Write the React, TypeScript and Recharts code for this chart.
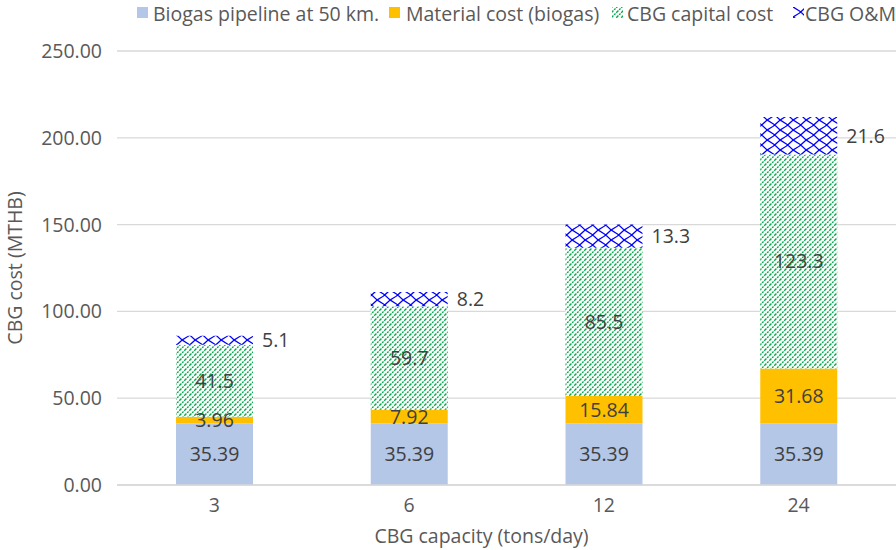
import React from 'react';
import { BarChart, Bar, XAxis, YAxis, CartesianGrid, LabelList } from 'recharts';

const capacities = ['3', '6', '12', '24'];
const pipeline = [35.39, 35.39, 35.39, 35.39];
const material = [3.96, 7.92, 15.84, 31.68];
const capital = [41.5, 59.7, 85.5, 123.3];
const om = [5.1, 8.2, 13.3, 21.6];
const yTicks = [0, 50, 100, 150, 200, 250];

const data = capacities.map((name, i) => ({
    name,
    pipeline: pipeline[i],
    material: material[i],
    capital: capital[i],
    om: om[i],
}));

const FONT = '"Open Sans", "Noto Sans", sans-serif';
const FS = 19.5;
const AXIS_GREY = '#595959';
const LABEL_GREY = '#404040';

const legendItems = [
    { label: 'Biogas pipeline at 50 km.', fill: '#b4c7e7', box: 137, text: 153 },
    { label: 'Material cost (biogas)', fill: '#ffc000', box: 389, text: 406 },
    { label: 'CBG capital cost', fill: 'url(#greenHatch)', box: 612, text: 627 },
    { label: 'CBG O&M', fill: 'url(#blueCross)', box: 793, text: 805 },
];

const Patterns: React.FC = () => (
    <svg width={0} height={0} style={{ position: 'absolute' }}>
        <defs>
            <pattern id="greenHatch" patternUnits="userSpaceOnUse" width={5} height={5}>
                <rect width={5} height={5} fill="#ffffff" />
                <path
                    d="M0,5 L5,0 M-1,1 L1,-1 M4,6 L6,4"
                    stroke="#00a848"
                    strokeWidth={1.4}
                    strokeDasharray="2 1"
                />
            </pattern>
            <pattern id="blueCross" patternUnits="userSpaceOnUse" width={13} height={10}>
                <rect width={13} height={10} fill="#ffffff" />
                <path d="M0,0 Q6.5,3 13,10 M13,0 Q6.5,7 0,10" stroke="#0000ff" strokeWidth={1.2} fill="none" />
            </pattern>
        </defs>
    </svg>
);

const App: React.FC = () => {
    return (
        <div style={{ position: 'absolute', left: 0, top: 0, width: 896, height: 550, fontFamily: FONT, overflow: 'hidden' }}>
            <Patterns />
            <div style={{ position: 'absolute', left: 0, top: 0, width: 896, height: 30, zIndex: 2 }}>
                {legendItems.map((item) => (
                    <React.Fragment key={item.label}>
                        <svg
                            width={11}
                            height={11}
                            style={{ position: 'absolute', left: item.box, top: 7 }}
                        >
                            <rect width={11} height={11} fill={item.fill} />
                        </svg>
                        <div
                            style={{
                                position: 'absolute',
                                left: item.text,
                                top: 0,
                                fontSize: FS,
                                lineHeight: 'normal',
                                color: AXIS_GREY,
                                whiteSpace: 'nowrap',
                            }}
                        >
                            {item.label}
                        </div>
                    </React.Fragment>
                ))}
            </div>
            <BarChart
                width={896}
                height={550}
                data={data}
                margin={{ top: 51, right: 0, left: 0, bottom: 0 }}
                style={{ fontFamily: FONT }}
            >
                <CartesianGrid vertical={false} stroke="#d9d9d9" strokeWidth={1.3} />
                <XAxis
                    dataKey="name"
                    height={65}
                    tickLine={false}
                    tickSize={0}
                    tickMargin={13}
                    axisLine={{ stroke: '#d9d9d9', strokeWidth: 1.3 }}
                    tick={{ fontSize: FS, fill: AXIS_GREY }}
                    label={{
                        value: 'CBG capacity (tons/day)',
                        position: 'insideBottom',
                        offset: 7,
                        dx: -25,
                        fontSize: FS,
                        fill: AXIS_GREY,
                    }}
                />
                <YAxis
                    width={117}
                    domain={[0, 250]}
                    ticks={yTicks}
                    tickLine={false}
                    axisLine={false}
                    tickSize={0}
                    tickMargin={15}
                    tickFormatter={(v: number) => v.toFixed(2)}
                    tick={{ fontSize: FS, fill: AXIS_GREY }}
                    label={{
                        value: 'CBG cost (MTHB)',
                        angle: -90,
                        position: 'center',
                        dx: -43,
                        fontSize: FS,
                        fill: AXIS_GREY,
                    }}
                />
                <Bar dataKey="pipeline" stackId="a" fill="#b4c7e7" barSize={77} isAnimationActive={false}>
                    <LabelList dataKey="pipeline" position="center" fill={LABEL_GREY} fontSize={FS} />
                </Bar>
                <Bar dataKey="material" stackId="a" fill="#ffc000" barSize={77} isAnimationActive={false}>
                    <LabelList dataKey="material" position="center" fill={LABEL_GREY} fontSize={FS} />
                </Bar>
                <Bar dataKey="capital" stackId="a" fill="url(#greenHatch)" barSize={77} isAnimationActive={false}>
                    <LabelList dataKey="capital" position="center" fill={LABEL_GREY} fontSize={FS} />
                </Bar>
                <Bar dataKey="om" stackId="a" fill="url(#blueCross)" barSize={77} isAnimationActive={false}>
                    <LabelList dataKey="om" position="right" offset={9} fill={LABEL_GREY} fontSize={FS} />
                </Bar>
            </BarChart>
        </div>
    );
};

export default App;
